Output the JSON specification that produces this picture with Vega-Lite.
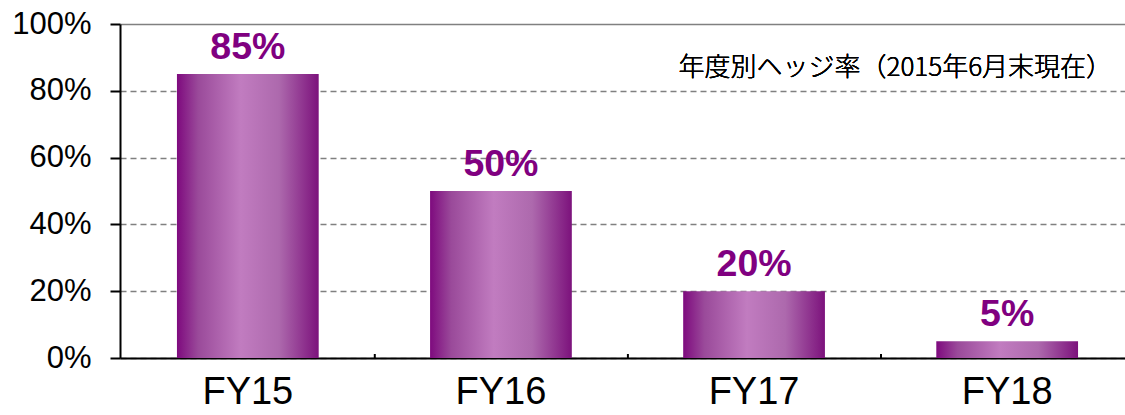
{
  "$schema": "https://vega.github.io/schema/vega-lite/v6.json",
  "width": 1015,
  "height": 334,
  "autosize": {"type": "none"},
  "padding": {"left": 120, "top": 24, "right": 0, "bottom": 57},
  "background": "white",
  "config": {
    "view": {"stroke": null},
    "font": "Liberation Sans"
  },
  "data": {
    "values": [
      {"fy": "FY15", "rate": 0.85, "label": "85%"},
      {"fy": "FY16", "rate": 0.50, "label": "50%"},
      {"fy": "FY17", "rate": 0.20, "label": "20%"},
      {"fy": "FY18", "rate": 0.05, "label": "5%"}
    ]
  },
  "encoding": {
    "x": {
      "field": "fy",
      "type": "nominal",
      "sort": null,
      "scale": {"paddingInner": 0.44, "paddingOuter": 0.225},
      "axis": {
        "title": null,
        "labelAngle": 0,
        "labelFont": "Liberation Sans",
        "labelFontSize": 38,
        "labelColor": "black",
        "labelPadding": 15,
        "domainColor": "black",
        "domainWidth": 2,
        "ticks": false
      }
    }
  },
  "layer": [
    {
      "mark": {
        "type": "bar",
        "color": {
          "gradient": "linear",
          "x1": 0, "y1": 0, "x2": 1, "y2": 0,
          "stops": [
            {"offset": 0, "color": "#7e0a7e"},
            {"offset": 0.15, "color": "#9a4a9a"},
            {"offset": 0.45, "color": "#c17cc0"},
            {"offset": 0.72, "color": "#ad69ad"},
            {"offset": 1, "color": "#7c127c"}
          ]
        }
      },
      "encoding": {
        "y": {
          "field": "rate",
          "type": "quantitative",
          "scale": {"domain": [0, 1], "nice": false},
          "axis": {
            "title": null,
            "values": [0, 0.2, 0.4, 0.6, 0.8, 1],
            "format": ".0%",
            "labelFont": "Liberation Sans",
            "labelFontSize": 31,
            "labelColor": "black",
            "labelPadding": 19,
            "tickSize": 10,
            "tickColor": "black",
            "tickWidth": 2,
            "domainColor": "black",
            "domainWidth": 2,
            "grid": true,
            "gridColor": "#808080",
            "gridWidth": 1.5,
            "gridDash": {"condition": {"test": "datum.value === 1", "value": []}, "value": [6, 4]}
          }
        }
      }
    },
    {
      "mark": {
        "type": "text",
        "baseline": "alphabetic",
        "dy": -15,
        "font": "Liberation Sans",
        "fontSize": 37.5,
        "fontWeight": "bold",
        "color": "#800080"
      },
      "encoding": {
        "y": {"field": "rate", "type": "quantitative"},
        "text": {"field": "label"}
      }
    },
    {
      "transform": [{"filter": "datum.fy !== 'FY15'"}],
      "mark": {"type": "rule", "color": "black", "strokeWidth": 2},
      "encoding": {
        "x": {"field": "fy", "type": "nominal", "sort": null, "bandPosition": -0.39},
        "y": {"datum": 0},
        "y2": {"datum": 0.012}
      }
    },
    {
      "mark": {
        "type": "text",
        "align": "right",
        "baseline": "middle",
        "dx": 34,
        "font": "Noto Sans CJK JP",
        "fontSize": 26,
        "fontWeight": 300,
        "color": "black"
      },
      "encoding": {
        "x": {"datum": "FY18", "bandPosition": 1},
        "y": {"datum": 0.868},
        "text": {"value": "年度別ヘッジ率（2015年6月末現在）"}
      }
    }
  ]
}
